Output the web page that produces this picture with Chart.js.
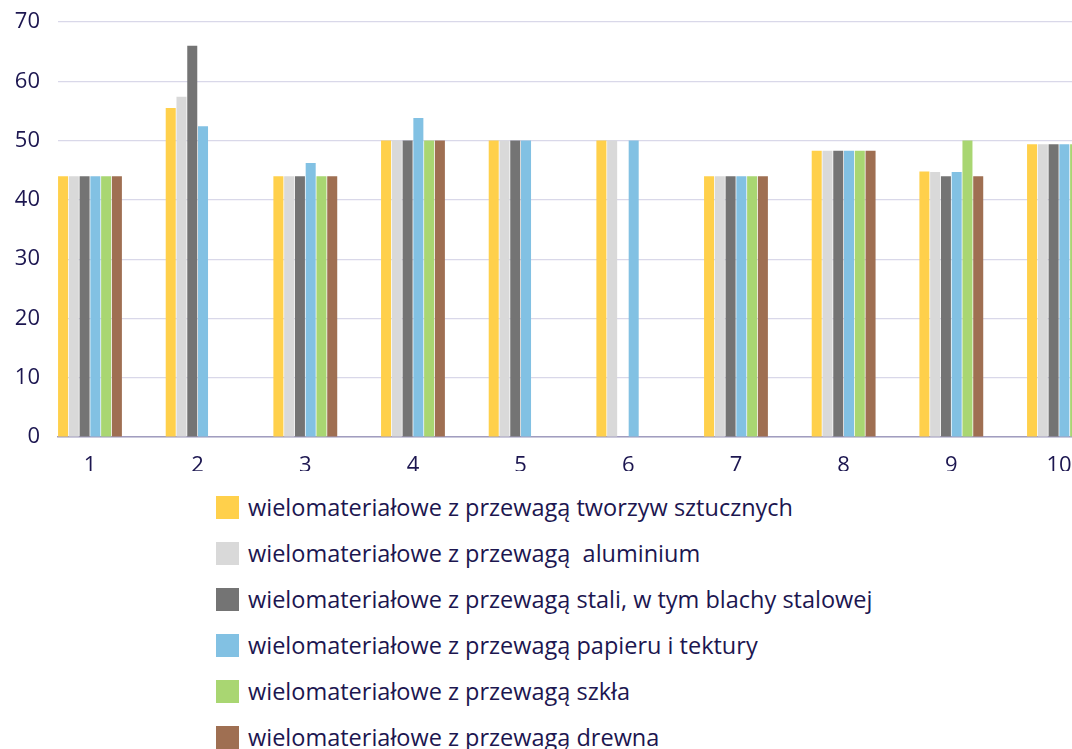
<!DOCTYPE html>
<html>
<head>
<meta charset="utf-8">
<script src="https://cdn.jsdelivr.net/npm/chart.js@4"></script>
<style>
	body { margin: 0; background: #fff; overflow: hidden; width: 1072px; height: 749px; position: relative; }
	#wrap { position: absolute; left: 0; top: 0; width: 1072px; height: 480px; }
	#legend { position: absolute; left: 216px; top: 484px; font-family: 'Open Sans', sans-serif; font-size: 23.5px; color: #1c1650; }
	.row { display: flex; align-items: center; height: 46px; white-space: pre; }
	.box { width: 23px; height: 23px; margin-right: 9px; flex: none; }
</style>
</head>
<body>
<div id="wrap"><canvas id="chart"></canvas></div>
<div id="legend"></div>
<script>
const categories = ['1', '2', '3', '4', '5', '6', '7', '8', '9', '10'];

const seriesNames = [
	'wielomateriałowe z przewagą tworzyw sztucznych',
	'wielomateriałowe z przewagą  aluminium',
	'wielomateriałowe z przewagą stali, w tym blachy stalowej',
	'wielomateriałowe z przewagą papieru i tektury',
	'wielomateriałowe z przewagą szkła',
	'wielomateriałowe z przewagą drewna',
];

const tworzywa = [44, 55.5, 44, 50, 50, 50, 44, 48.3, 44.8, 49.4];
const aluminium = [44, 57.4, 44, 50, 50, 50, 44, 48.3, 44.7, 49.4];
const stal = [44, 66, 44, 50, 50, null, 44, 48.3, 44, 49.4];
const papier = [44, 52.4, 46.2, 53.8, 50, 50, 44, 48.3, 44.7, 49.4];
const szklo = [44, null, 44, 50, null, null, 44, 48.3, 50, 49.4];
const drewno = [44, null, 44, 50, null, null, 44, 48.3, 44, 49.4];

const seriesValues = [tworzywa, aluminium, stal, papier, szklo, drewno];
const colors = ['#ffd04b', '#d9d9d9', '#747474', '#82c1e3', '#a9d672', '#9f6f52'];

const yTicks = [0, 10, 20, 30, 40, 50, 60, 70];

const textColor = '#1c1650';

// bars on a linear x axis so the plot can start/stop mid-category like the picture
const datasets = seriesValues.map((vals, i) => ({
	label: seriesNames[i],
	data: vals.map((v, j) => ({ x: j + 1, y: v })),
	backgroundColor: colors[i],
	borderWidth: 0,
	categoryPercentage: 0.6,
	barPercentage: 0.93,
}));

const config = {
	type: 'bar',
	data: { datasets: datasets },
	options: {
		responsive: true,
		maintainAspectRatio: false,
		animation: false,
		layout: {
			padding: { top: 22, right: 0, bottom: 9, left: 0 },
		},
		plugins: {
			legend: { display: false },
			tooltip: { enabled: false },
		},
		scales: {
			x: {
				type: 'linear',
				offset: false,
				min: 0.703,
				max: 10.121,
				grid: { display: false },
				border: { display: true, color: '#a19dbf', width: 1.5 },
				ticks: {
					stepSize: 1,
					includeBounds: false,
					autoSkip: false,
					maxRotation: 0,
					padding: 8,
					color: textColor,
					font: { family: 'Open Sans', size: 22 },
					callback: (v) => categories[v - 1],
				},
				afterFit: (scale) => {
					scale.height = 34;
					scale.paddingLeft = 0;
					scale.paddingRight = 0;
				},
			},
			y: {
				min: yTicks[0],
				max: yTicks[yTicks.length - 1],
				grid: { color: '#d9d8e9', lineWidth: 1.2, drawTicks: false },
				border: { display: false },
				ticks: {
					stepSize: 10,
					padding: 18,
					color: textColor,
					font: { family: 'Open Sans', size: 22 },
				},
				afterFit: (scale) => {
					scale.width = 58;
					scale.paddingTop = 0;
					scale.paddingBottom = 0;
				},
			},
		},
	},
};

const ctx = document.getElementById('chart');
const chart = new Chart(ctx, config);

// vertical legend under the chart
const legendEl = document.getElementById('legend');
chart.data.datasets.forEach((ds) => {
	const row = document.createElement('div');
	row.className = 'row';
	const box = document.createElement('span');
	box.className = 'box';
	box.style.background = ds.backgroundColor;
	const txt = document.createElement('span');
	txt.textContent = ds.label;
	row.appendChild(box);
	row.appendChild(txt);
	legendEl.appendChild(row);
});
</script>
</body>
</html>
